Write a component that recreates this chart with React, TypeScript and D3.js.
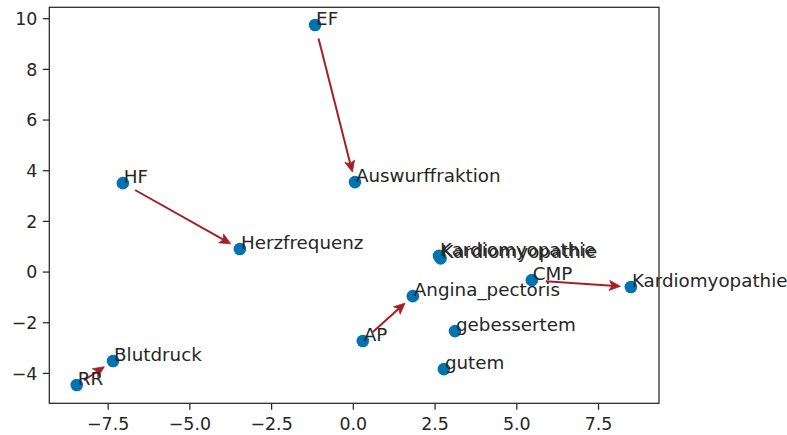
import React from "react";
import * as d3 from "d3";

const labels = ["EF", "Auswurffraktion", "HF", "Herzfrequenz", "RR", "Blutdruck", "AP", "Angina_pectoris", "Kardiomyopathie", "Kardiomyopathie", "CMP", "Kardiomyopathie", "gebessertem", "gutem"];
const xs = [-1.17, 0.05, -7.05, -3.47, -8.46, -7.35, 0.29, 1.82, 2.62, 2.67, 5.46, 8.49, 3.11, 2.77];
const ys = [9.75, 3.55, 3.51, 0.91, -4.46, -3.51, -2.72, -0.95, 0.64, 0.54, -0.32, -0.59, -2.33, -3.83];
// arrows: [from index, to index]
const arrowFrom = [0, 2, 4, 6, 10];
const arrowTo = [1, 3, 5, 7, 11];
const xTicks = [-7.5, -5.0, -2.5, 0.0, 2.5, 5.0, 7.5];
const yTicks = [-4, -2, 0, 2, 4, 6, 8, 10];

const W = 787, H = 435;
const L = 49.3, R = 659, T = 7.3, B = 403.3;
const FONT = "DejaVu Sans, sans-serif";
const TXT = "#262626";
const ARROW = "#a51f26";
const DOT = "#0173b2";

export default function App() {
  const x = d3.scaleLinear().domain([-9.3, 9.35]).range([L, R]);
  const y = d3.scaleLinear().domain([-5.18, 10.45]).range([B, T]);

  const arrows = arrowFrom.map((fi, k) => {
    const ti = arrowTo[k];
    const x1 = x(xs[fi]), y1 = y(ys[fi]);
    const x2 = x(xs[ti]), y2 = y(ys[ti]);
    const dx = x2 - x1, dy = y2 - y1;
    const len = Math.hypot(dx, dy);
    const ux = dx / len, uy = dy / len;
    const sA = Math.min(14, len * 0.2), sB = 10.5;
    const sx = x1 + ux * sA, sy = y1 + uy * sA;
    const ex = x2 - ux * sB, ey = y2 - uy * sB;
    const hl = 11, hw = 5, notch = 2.5;
    const bx = ex - ux * hl, by = ey - uy * hl;
    const nx = -uy, ny = ux;
    const head = `M${ex},${ey} L${bx + nx * hw},${by + ny * hw} L${bx + ux * notch},${by + uy * notch} L${bx - nx * hw},${by - ny * hw} Z`;
    return { sx, sy, lx: bx + ux * notch, ly: by + uy * notch, head, k };
  });

  return (
    <svg width={W} height={H} style={{ position: "absolute", left: 0, top: 0 }}>
      <rect width={W} height={H} fill="white" />
      {arrows.map((a) => (
        <g key={a.k}>
          <line x1={a.sx} y1={a.sy} x2={a.lx} y2={a.ly} stroke={ARROW} strokeWidth={2} />
          <path d={a.head} fill={ARROW} stroke={ARROW} strokeWidth={0.8} strokeLinejoin="miter" />
        </g>
      ))}
      {xs.map((v, i) => (
        <circle key={"c" + i} cx={x(v)} cy={y(ys[i])} r={6.3} fill={DOT} />
      ))}
      {xs.map((v, i) => (
        <text key={"t" + i} x={x(v) + 1} y={y(ys[i])} fontFamily={FONT} fontSize={18.3} fill={TXT}>
          {labels[i]}
        </text>
      ))}
      <rect x={L} y={T} width={R - L} height={B - T} fill="none" stroke={TXT} strokeWidth={1.25} />
      {xTicks.map((t) => (
        <g key={"xt" + t}>
          <line x1={x(t)} x2={x(t)} y1={B} y2={B + 6.5} stroke={TXT} strokeWidth={1.25} />
          <text x={x(t)} y={B + 26.5} textAnchor="middle" fontFamily={FONT} fontSize={17.4} fill={TXT}>
            {t < 0 ? "\u2212" + Math.abs(t).toFixed(1) : t.toFixed(1)}
          </text>
        </g>
      ))}
      {yTicks.map((t) => (
        <g key={"yt" + t}>
          <line x1={L - 6.5} x2={L} y1={y(t)} y2={y(t)} stroke={TXT} strokeWidth={1.25} />
          <text x={L - 12} y={y(t)} dy="0.36em" textAnchor="end" fontFamily={FONT} fontSize={17.4} fill={TXT}>
            {t < 0 ? "\u2212" + Math.abs(t) : String(t)}
          </text>
        </g>
      ))}
    </svg>
  );
}
